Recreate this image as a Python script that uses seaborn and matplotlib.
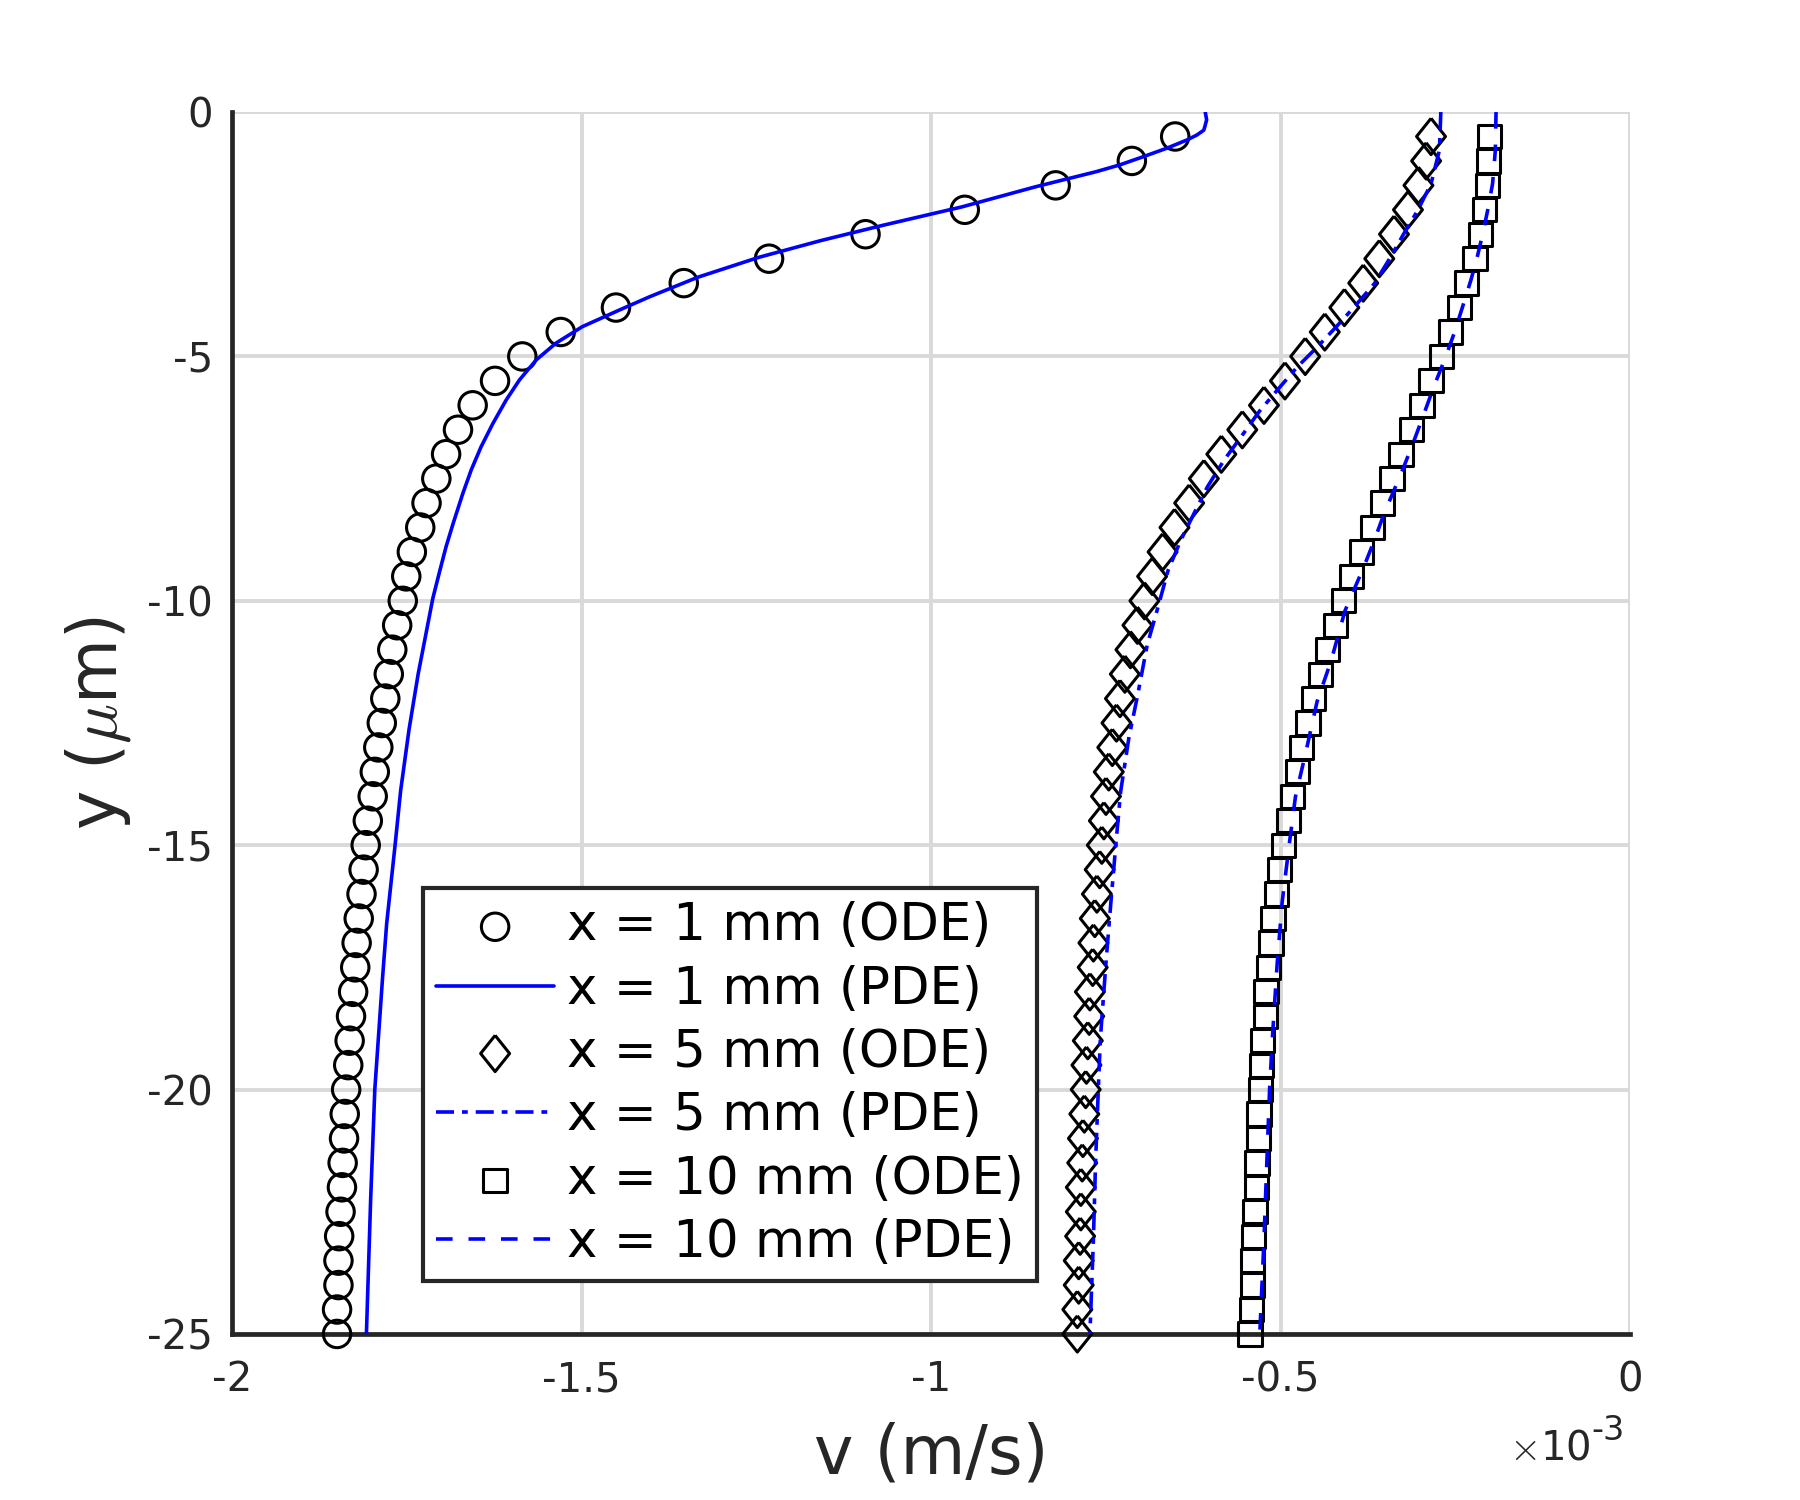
import numpy as np
import pandas as pd
import matplotlib
matplotlib.use("Agg")
import matplotlib.pyplot as plt
from matplotlib.markers import MarkerStyle
import seaborn as sns

# ---- data (v in units of 1e-3 m/s, y in micrometres) ----
y_ode = [-0.5, -1.0, -1.5, -2.0, -2.5, -3.0, -3.5, -4.0, -4.5, -5.0,
         -5.5, -6.0, -6.5, -7.0, -7.5, -8.0, -8.5, -9.0, -9.5, -10.0,
         -10.5, -11.0, -11.5, -12.0, -12.5, -13.0, -13.5, -14.0, -14.5, -15.0,
         -15.5, -16.0, -16.5, -17.0, -17.5, -18.0, -18.5, -19.0, -19.5, -20.0,
         -20.5, -21.0, -21.5, -22.0, -22.5, -23.0, -23.5, -24.0, -24.5, -25.0]

v_ode_1 = [-0.651, -0.713, -0.822, -0.952, -1.094, -1.232, -1.354, -1.451, -1.530, -1.585,
           -1.624, -1.656, -1.677, -1.694, -1.708, -1.722, -1.731, -1.743, -1.751, -1.756,
           -1.764, -1.771, -1.776, -1.781, -1.786, -1.791, -1.796, -1.799, -1.806, -1.809,
           -1.812, -1.815, -1.819, -1.822, -1.824, -1.827, -1.830, -1.832, -1.834, -1.837,
           -1.839, -1.840, -1.842, -1.843, -1.845, -1.847, -1.848, -1.848, -1.850, -1.850]
v_ode_5 = [-0.285, -0.292, -0.303, -0.318, -0.338, -0.359, -0.382, -0.409, -0.437, -0.465,
           -0.494, -0.524, -0.555, -0.585, -0.610, -0.631, -0.652, -0.669, -0.684, -0.695,
           -0.705, -0.715, -0.723, -0.730, -0.735, -0.741, -0.746, -0.750, -0.753, -0.756,
           -0.759, -0.763, -0.766, -0.768, -0.769, -0.773, -0.774, -0.776, -0.778, -0.779,
           -0.781, -0.783, -0.784, -0.786, -0.786, -0.787, -0.789, -0.789, -0.791, -0.791]
v_ode_10 = [-0.201, -0.203, -0.204, -0.208, -0.214, -0.222, -0.234, -0.244, -0.257, -0.270,
            -0.285, -0.298, -0.313, -0.328, -0.341, -0.354, -0.369, -0.384, -0.399, -0.410,
            -0.422, -0.433, -0.443, -0.453, -0.461, -0.470, -0.476, -0.483, -0.489, -0.496,
            -0.502, -0.506, -0.511, -0.514, -0.518, -0.521, -0.522, -0.526, -0.527, -0.529,
            -0.531, -0.532, -0.534, -0.535, -0.537, -0.539, -0.540, -0.540, -0.542, -0.544]

y_pde_1 = [0.0, -0.16, -0.37, -0.47, -0.57, -0.74, -0.91, -1.08, -1.22, -1.53,
           -1.94, -2.32, -2.63, -2.97, -3.38, -3.78, -4.05, -4.39, -4.73, -5.07,
           -5.48, -5.89, -6.37, -6.85, -7.32, -7.80, -8.42, -8.89, -9.44, -9.95,
           -11.5, -12.63, -13.88, -15.0, -16.6, -17.73, -20.0, -22.27, -25.0]
v_pde_1 = [-0.608, -0.606, -0.610, -0.620, -0.634, -0.663, -0.696, -0.730, -0.764, -0.851,
           -0.956, -1.070, -1.158, -1.246, -1.334, -1.403, -1.446, -1.499, -1.537, -1.565,
           -1.589, -1.608, -1.627, -1.644, -1.658, -1.670, -1.684, -1.694, -1.704, -1.713,
           -1.734, -1.747, -1.759, -1.767, -1.779, -1.785, -1.796, -1.802, -1.808]

y_pde_5 = [0.0, -0.78, -1.47, -2.01, -2.49, -2.97, -3.51, -3.99, -4.40, -4.81,
           -5.21, -5.69, -6.13, -6.65, -7.12, -7.67, -8.21, -8.76, -9.37, -10.2,
           -10.9, -11.95, -12.78, -13.9, -15.0, -16.17, -17.4, -18.95, -20.0, -21.52,
           -23.07, -25.0]
v_pde_5 = [-0.271, -0.273, -0.285, -0.304, -0.324, -0.343, -0.366, -0.395, -0.421, -0.448,
           -0.476, -0.505, -0.531, -0.557, -0.581, -0.605, -0.624, -0.643, -0.661, -0.677,
           -0.691, -0.705, -0.717, -0.729, -0.736, -0.743, -0.750, -0.758, -0.761, -0.765,
           -0.768, -0.773]

y_pde_10 = [0.0, -0.78, -1.47, -2.01, -2.49, -2.97, -3.44, -3.99, -4.53, -5.08,
            -5.62, -6.17, -6.71, -7.26, -7.74, -8.21, -8.76, -9.30, -10.2, -11.23,
            -12.06, -13.09, -14.01, -15.0, -16.17, -17.4, -18.95, -20.0, -21.52, -23.07,
            -25.0]
v_pde_10 = [-0.192, -0.193, -0.197, -0.204, -0.211, -0.219, -0.228, -0.240, -0.252, -0.266,
            -0.281, -0.295, -0.309, -0.324, -0.338, -0.352, -0.366, -0.381, -0.408, -0.428,
            -0.448, -0.464, -0.479, -0.488, -0.498, -0.505, -0.512, -0.516, -0.520, -0.524,
            -0.530]

labels = ['x = 1 mm (ODE)', 'x = 1 mm (PDE)', 'x = 5 mm (ODE)',
          'x = 5 mm (PDE)', 'x = 10 mm (ODE)', 'x = 10 mm (PDE)']
x_ticks = [-2, -1.5, -1, -0.5, 0]
x_ticklabels = ['-2', '-1.5', '-1', '-0.5', '0']
y_ticks = [-25, -20, -15, -10, -5, 0]
y_ticklabels = ['-25', '-20', '-15', '-10', '-5', '0']

# ---- style ----
sns.set_style('white')
plt.rcParams['font.family'] = ['DejaVu Sans']
plt.rcParams['mathtext.fontset'] = 'cm'
plt.rcParams['axes.unicode_minus'] = False

dark = '#262626'
blue = (0, 0, 1)

fig = plt.figure(figsize=(18, 15), dpi=100)
ax = fig.add_axes([0.129, 0.1107, 0.7767, 0.8146])

diamond = MarkerStyle([(0, 1), (0.8, 0), (0, -1), (-0.8, 0), (0, 1)])
mk = dict(facecolor='none', edgecolor='black', linewidth=2.2, clip_on=False, zorder=3)
lw = 2.6

h = []
sns.scatterplot(x=v_ode_1, y=y_ode, marker='o', s=390, ax=ax, **mk)
h.append(ax.collections[-1])
sns.lineplot(x=v_pde_1, y=y_pde_1, sort=False, estimator=None, color=blue,
             linewidth=lw, linestyle='-', ax=ax, zorder=4)
h.append(ax.lines[-1])
sns.scatterplot(x=v_ode_5, y=y_ode, marker=diamond, s=680, ax=ax, **mk)
h.append(ax.collections[-1])
sns.lineplot(x=v_pde_5, y=y_pde_5, sort=False, estimator=None, color=blue,
             linewidth=lw, linestyle=(0, (5.0, 2.2, 1.6, 2.2)), ax=ax, zorder=4)
h.append(ax.lines[-1])
sns.scatterplot(x=v_ode_10, y=y_ode, marker='s', s=280, ax=ax, **mk)
h.append(ax.collections[-1])
sns.lineplot(x=v_pde_10, y=y_pde_10, sort=False, estimator=None, color=blue,
             linewidth=lw, linestyle=(0, (4.6, 4.4)), ax=ax, zorder=4)
h.append(ax.lines[-1])

ax.set_xlim(-2, 0)
ax.set_ylim(-25, 0)
ax.set_xticks(x_ticks)
ax.set_xticklabels(x_ticklabels)
ax.set_yticks(y_ticks)
ax.set_yticklabels(y_ticklabels)

ax.grid(True, color='#d9d9d9', linewidth=2.8)
ax.set_axisbelow(True)
for side in ['top', 'right']:
    ax.spines[side].set_visible(False)
for side in ['left', 'bottom']:
    ax.spines[side].set_color(dark)
    ax.spines[side].set_linewidth(3.4)
ax.tick_params(axis='both', direction='in', length=10, width=3.4, colors=dark,
               labelsize=29, labelcolor=dark)
ax.tick_params(axis='x', pad=19)
ax.tick_params(axis='y', pad=14)

ax.set_xlabel('v (m/s)', fontsize=48, color=dark)
ax.set_ylabel(r'y ($\mu$m)', fontsize=48, color=dark)
ax.xaxis.set_label_coords(0.5, -0.072)
ax.yaxis.set_label_coords(-0.071, 0.5)

# exponent of the x axis
ax.text(0.9714, -0.1031, r'$\times$10', transform=ax.transAxes,
        ha='right', va='baseline', fontsize=29, color=dark)
ax.text(0.9725, -0.0867, '-3', transform=ax.transAxes,
        ha='left', va='baseline', fontsize=24, color=dark)

leg = ax.legend(h, labels, loc='lower left', bbox_to_anchor=(0.1366, 0.0434),
                borderaxespad=0, fontsize=37, frameon=True, fancybox=False,
                framealpha=1, edgecolor=dark, borderpad=0.25, labelspacing=0.26,
                handlelength=2.3, handletextpad=0.25, scatterpoints=1,
                labelcolor='black')
leg.get_frame().set_linewidth(3)

fig.savefig('out.png', dpi=100)
